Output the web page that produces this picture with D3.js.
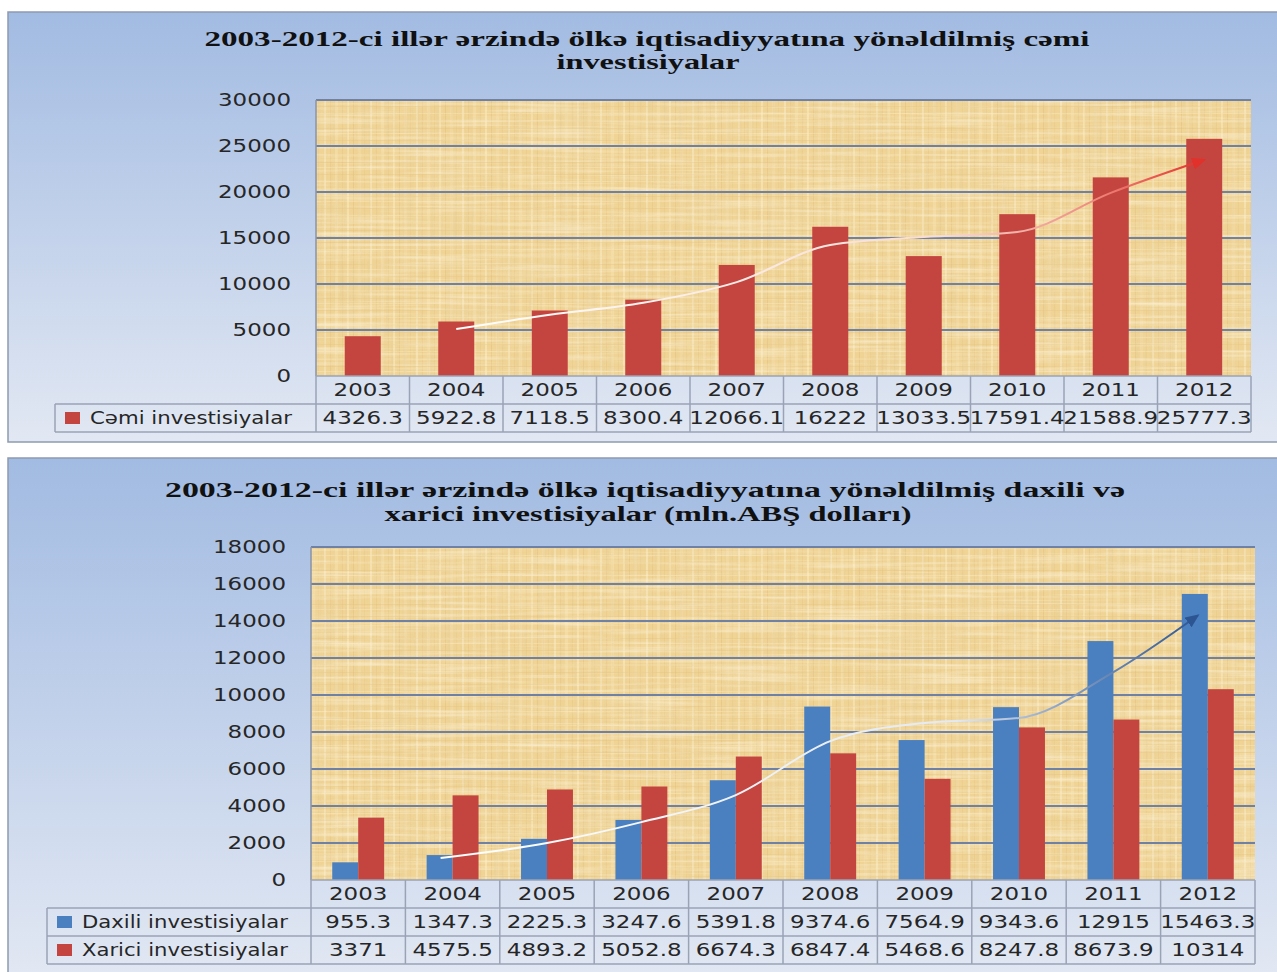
<!DOCTYPE html>
<html><head><meta charset="utf-8">
<script src="https://cdn.jsdelivr.net/npm/d3@7"></script>
<style>body{margin:0;background:#fff}svg{display:block}</style>
</head><body>
<svg id="c" width="1277" height="972"></svg>
<script>
// ---------- data ----------
const years = ["2003","2004","2005","2006","2007","2008","2009","2010","2011","2012"];
const cemi = [4326.3, 5922.8, 7118.5, 8300.4, 12066.1, 16222, 13033.5, 17591.4, 21588.9, 25777.3];
const daxili = [955.3, 1347.3, 2225.3, 3247.6, 5391.8, 9374.6, 7564.9, 9343.6, 12915, 15463.3];
const xarici = [3371, 4575.5, 4893.2, 5052.8, 6674.3, 6847.4, 5468.6, 8247.8, 8673.9, 10314];
const ticks1 = [0, 5000, 10000, 15000, 20000, 25000, 30000];
const ticks2 = [0, 2000, 4000, 6000, 8000, 10000, 12000, 14000, 16000, 18000];
// hand-drawn trend arrows (values read at each year)
const trend1 = [null, 5100, 6650, 7950, 10200, 14240, 15100, 15650, 19900, 23500];
const trend2 = [null, 1190, 2000, 3130, 4590, 7510, 8490, 8760, 11240, 14300];
const title1 = ["2003-2012-ci illər ərzində ölkə iqtisadiyyatına yönəldilmiş  cəmi", "investisiyalar"];
const title2 = ["2003-2012-ci illər ərzində ölkə iqtisadiyyatına  yönəldilmiş  daxili və", "xarici investisiyalar  (mln.ABŞ dolları)"];
const seriesNames1 = ["Cəmi investisiyalar"];
const seriesNames2 = ["Daxili investisiyalar", "Xarici investisiyalar"];

// ---------- styles ----------
const RED = "#c4453f", BLUE = "#4a7fc0";
const NUMFONT = "DejaVu Sans", NUMSIZE = 17, NUMSX = 1.35;
const GRID = "#6f82a6", BORDER = "#9aa3b6";

const svg = d3.select("#c");
const defs = svg.append("defs");

// panel gradient
const pg = defs.append("linearGradient").attr("id","panelGrad").attr("x1",0).attr("y1",0).attr("x2",0).attr("y2",1);
pg.append("stop").attr("offset","0%").attr("stop-color","#a2bbe2");
pg.append("stop").attr("offset","100%").attr("stop-color","#e2e8f3");

// papyrus texture: fine stripes + turbulence fibres
const pat = defs.append("pattern").attr("id","pap").attr("width",46).attr("height",34).attr("patternUnits","userSpaceOnUse");
pat.append("rect").attr("width",46).attr("height",34).attr("fill","#f0d495");
[[2,2,"#f9e9c2",0.55],[8,1,"#dfba78",0.3],[13,3,"#f6e1b0",0.5],[20,1,"#e3c07f",0.35],[25,2,"#fbedc8",0.5],[31,1,"#d9b26f",0.3],[36,3,"#f5deaa",0.45],[42,1,"#e5c484",0.35]]
  .forEach(([x,w,c,o]) => pat.append("rect").attr("x",x).attr("y",0).attr("width",w).attr("height",34).attr("fill",c).attr("opacity",o));
[[4,1,"#e4c381",0.35],[11,1,"#f8e5b8",0.5],[18,2,"#f7e3b3",0.35],[26,1,"#e0bd7c",0.3],[31,1,"#faeac2",0.45]]
  .forEach(([y,h,c,o]) => pat.append("rect").attr("x",0).attr("y",y).attr("width",46).attr("height",h).attr("fill",c).attr("opacity",o));

function fibreFilter(id, fx, fy, seed, rgb, a){
  const f = defs.append("filter").attr("id",id).attr("x",0).attr("y",0).attr("width","100%").attr("height","100%");
  f.append("feTurbulence").attr("type","fractalNoise").attr("baseFrequency",`${fx} ${fy}`).attr("numOctaves",2).attr("seed",seed);
  f.append("feColorMatrix").attr("type","matrix")
    .attr("values",`0 0 0 0 ${rgb[0]}  0 0 0 0 ${rgb[1]}  0 0 0 0 ${rgb[2]}  0 0 0 ${a[0]} ${a[1]}`);
}
fibreFilter("fibV", 0.35, 0.012, 4, [0.78,0.6,0.3], [2.2,-1.0]);
fibreFilter("fibH", 0.01, 0.3, 9, [0.99,0.94,0.8], [2.2,-1.0]);
fibreFilter("blot", 0.015, 0.02, 2, [0.85,0.68,0.38], [1.6,-0.75]);

function arrowMarker(id, color){
  defs.append("marker").attr("id",id).attr("viewBox","0 0 14 12").attr("refX",12).attr("refY",6)
    .attr("markerWidth",14).attr("markerHeight",12).attr("markerUnits","userSpaceOnUse").attr("orient","auto")
    .append("path").attr("d","M0,0L14,6L0,12z").attr("fill",color);
}
arrowMarker("arrRed","#e2302a");
arrowMarker("arrBlue","#2c5592");

function txt(g, x, y, s, o){
  const sx = o.sx || 1;
  const t = g.append("text").attr("transform",`translate(${x},${y}) scale(${sx},1)`)
    .attr("text-anchor", o.anchor || "start")
    .style("font-family", o.family || NUMFONT).style("font-size", (o.size||NUMSIZE)+"px")
    .style("font-weight", o.weight || "normal").attr("fill", o.fill || "#262626").text(s);
  if (o.len) t.attr("textLength", o.len/sx).attr("lengthAdjust","spacingAndGlyphs");
  return t;
}

function chart(cfg){
  const g = svg.append("g");
  // panel
  g.append("rect").attr("x",cfg.panel[0]).attr("y",cfg.panel[1]).attr("width",cfg.panel[2]).attr("height",cfg.panel[3])
    .attr("fill","url(#panelGrad)").attr("stroke","#8e9bb0").attr("stroke-width",1.5);
  // titles
  cfg.title.forEach((s,i) => txt(g, cfg.titlePos[i][0], cfg.titlePos[i][1], s,
    {family:"Liberation Serif", size:21, weight:"bold", anchor:"middle", len:cfg.titlePos[i][2], fill:"#111"}));

  const x = d3.scaleBand().domain(years).range([cfg.x0, cfg.x1]);
  const y = d3.scaleLinear().domain([0, cfg.max]).range([cfg.y0, cfg.yTop]);

  // plot area
  const pw = cfg.x1-cfg.x0, ph = cfg.y0-cfg.yTop;
  const area = () => g.append("rect").attr("x",cfg.x0).attr("y",cfg.yTop).attr("width",pw).attr("height",ph);
  area().attr("fill","url(#pap)");
  area().attr("fill","#fff").attr("filter","url(#blot)").attr("opacity",0.5);
  area().attr("fill","#fff").attr("filter","url(#fibV)").attr("opacity",0.45);
  area().attr("fill","#fff").attr("filter","url(#fibH)").attr("opacity",0.5);

  // grid
  g.selectAll(null).data(cfg.ticks.filter(d=>d>0)).join("line")
    .attr("x1",cfg.x0).attr("x2",cfg.x1).attr("y1",d=>y(d)).attr("y2",d=>y(d))
    .attr("stroke",GRID).attr("stroke-width",2);

  // y axis labels
  const ax = g.append("g").attr("transform",`translate(${cfg.x0},0)`)
    .call(d3.axisLeft(y).tickValues(cfg.ticks).tickSize(0).tickFormat(d3.format("d")));
  ax.select(".domain").remove();
  ax.selectAll("text").attr("x",0).attr("dy",0)
    .attr("transform", `translate(-25,5) scale(${NUMSX},1)`)
    .style("font-family",NUMFONT).style("font-size",NUMSIZE+"px").attr("fill","#262626");

  // bars
  const n = cfg.series.length;
  const inner = d3.scaleBand().domain(d3.range(n)).range([0, x.bandwidth()]).paddingInner(0).paddingOuter(cfg.pad/2 * n / (1 - cfg.pad));
  cfg.series.forEach((s, si) => {
    g.selectAll(null).data(s.values).join("rect")
      .attr("x",(d,i)=>x(years[i]) + inner(si))
      .attr("width", inner.bandwidth())
      .attr("y", d=>y(d)).attr("height", d=>cfg.y0 - y(d)).attr("fill", s.color);
  });

  // trend arrow
  const pts = cfg.trend.map((v,i)=>[x(years[i]) + x.bandwidth()/2 + (cfg.trendShift[i]||0), v]).filter(d=>d[1]!=null);
  const gid = "tg"+cfg.id;
  const tg = defs.append("linearGradient").attr("id",gid).attr("gradientUnits","userSpaceOnUse")
    .attr("x1",pts[0][0]).attr("x2",pts[pts.length-1][0]).attr("y1",0).attr("y2",0);
  cfg.trendStops.forEach(([o,c])=>tg.append("stop").attr("offset",o).attr("stop-color",c));
  g.append("path").datum(pts)
    .attr("d", d3.line().x(d=>d[0]).y(d=>y(d[1])).curve(d3.curveMonotoneX))
    .attr("fill","none").attr("stroke",`url(#${gid})`).attr("stroke-width",2)
    .attr("marker-end",`url(#${cfg.marker})`);

  // left axis line
  g.append("line").attr("x1",cfg.x0).attr("x2",cfg.x0).attr("y1",cfg.yTop).attr("y2",cfg.y0).attr("stroke","#8a93a6").attr("stroke-width",1.5);

  // data table
  const rows = cfg.rows;
  const tb = g.append("g").attr("stroke",BORDER).attr("stroke-width",1.5);
  rows.forEach((ry,i)=> tb.append("line").attr("x1", i<=0 ? cfg.x0 : cfg.tableLeft).attr("x2",cfg.x1).attr("y1",ry).attr("y2",ry));
  years.forEach(yr => tb.append("line").attr("x1",x(yr)).attr("x2",x(yr)).attr("y1",rows[0]).attr("y2",rows[rows.length-1]));
  tb.append("line").attr("x1",cfg.x1).attr("x2",cfg.x1).attr("y1",rows[0]).attr("y2",rows[rows.length-1]);
  tb.append("line").attr("x1",cfg.tableLeft).attr("x2",cfg.tableLeft).attr("y1",rows[1]).attr("y2",rows[rows.length-1]);

  years.forEach(yr => txt(g, x(yr)+x.bandwidth()/2, (rows[0]+rows[1])/2+6, yr, {anchor:"middle", sx:NUMSX}));
  cfg.series.forEach((s,si)=>{
    const cy = (rows[si+1]+rows[si+2])/2;
    g.append("rect").attr("x",cfg.tableLeft+10).attr("y",cy-6).attr("width",15).attr("height",12).attr("fill",s.color);
    txt(g, cfg.tableLeft+35, cy+6, s.name, {len:cfg.legendLen});
    s.values.forEach((v,i)=> txt(g, x(years[i])+x.bandwidth()/2, cy+6, String(v), {anchor:"middle", sx:NUMSX}));
  });
}

chart({
  id:1, panel:[8,12,1275,430],
  title:title1, titlePos:[[647,46,885],[648,69,183]],
  x0:316, x1:1251, yTop:100, y0:376, max:30000, ticks:ticks1, pad:0.615,
  series:[{name:seriesNames1[0], values:cemi, color:RED}],
  trend:trend1, trendShift:[], marker:"arrRed",
  trendStops:[["0%","#ffffff"],["65%","#f7dcd4"],["85%","#ef8a80"],["100%","#e2302a"]],
  rows:[376,404,432], tableLeft:55, legendLen:202
});
chart({
  id:2, panel:[8,458,1275,520],
  title:title2, titlePos:[[645,497,960],[648,521,527]],
  x0:311, x1:1255, yTop:547, y0:880, max:18000, ticks:ticks2, pad:0.45,
  series:[{name:seriesNames2[0], values:daxili, color:BLUE},{name:seriesNames2[1], values:xarici, color:RED}],
  trend:trend2, trendShift:[0,-12,0,0,0,0,0,0,0,-10], marker:"arrBlue",
  trendStops:[["0%","#ffffff"],["68%","#e3eaf4"],["82%","#8aa2c6"],["100%","#2c5592"]],
  rows:[880,908,936,964], tableLeft:47, legendLen:206
});
</script>
</body></html>
